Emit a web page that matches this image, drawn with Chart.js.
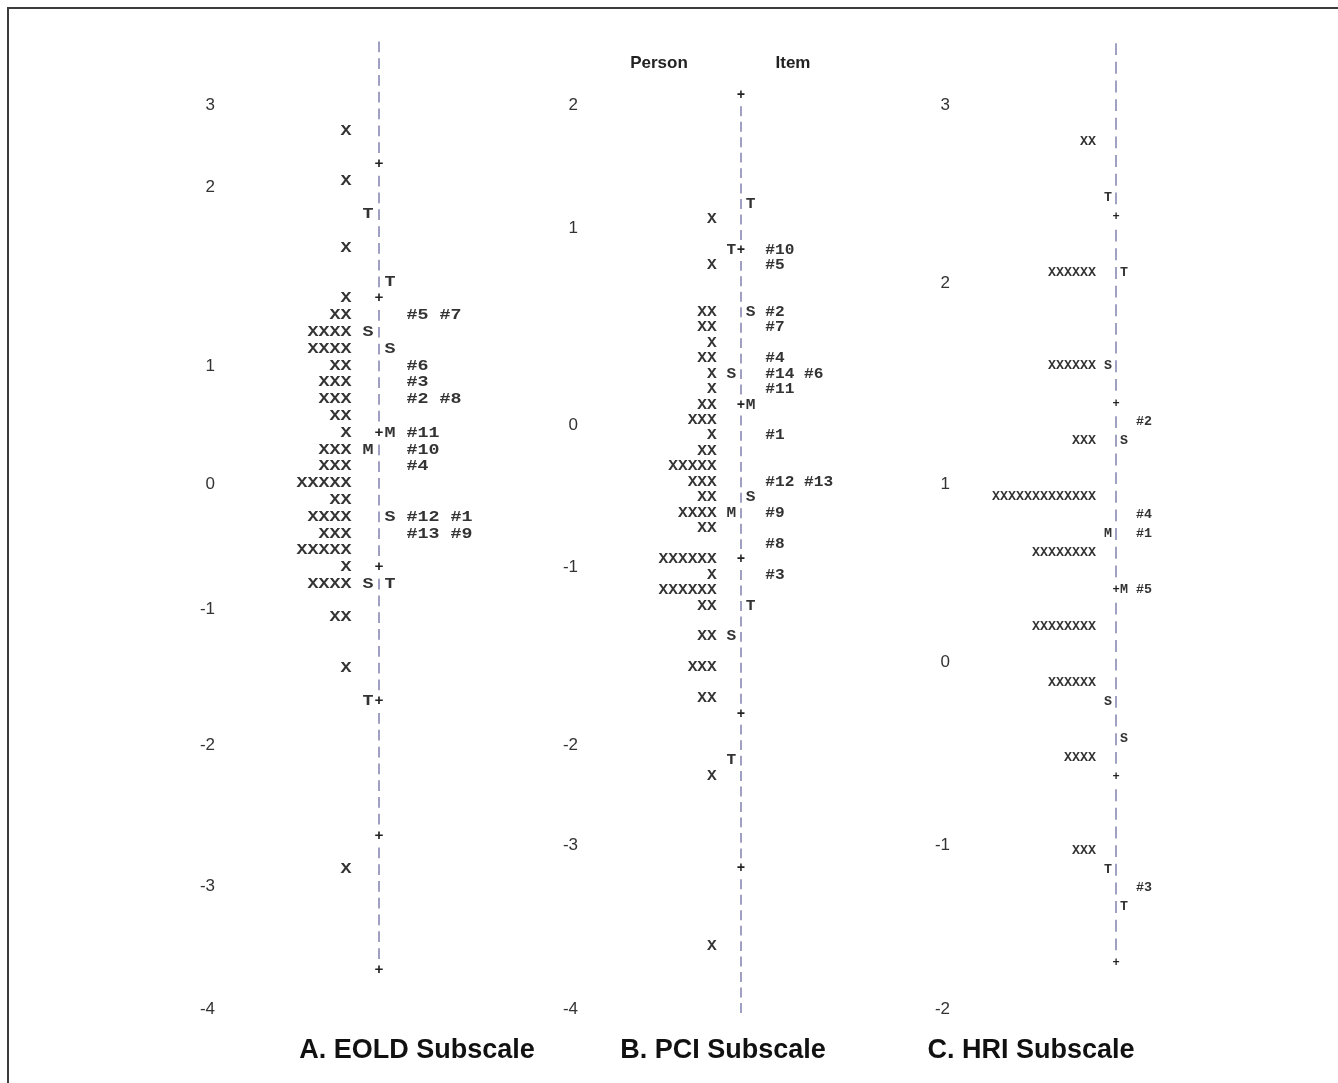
<!DOCTYPE html>
<html>
<head>
<meta charset="utf-8">
<script src="https://cdn.jsdelivr.net/npm/chart.js@4.4.1/dist/chart.umd.min.js"></script>
<style>
  body { margin: 0; background: #fff; }
  #wrap { position: relative; width: 1338px; height: 1083px; overflow: hidden; }
  #frame { position: absolute; left: 7px; top: 7px; width: 1400px; height: 1200px;
           border-top: 2px solid #3c3c3c; border-left: 2px solid #3c3c3c; }
  canvas { position: absolute; top: 0; }
  .title { position: absolute; top: 1034px; transform: translateX(-50%); white-space: nowrap;
           font: bold 27px "Liberation Sans", Arial, sans-serif; color: #111; }
  .head { position: absolute; top: 53px; transform: translateX(-50%);
          font: bold 17px "Liberation Sans", Arial, sans-serif; color: #222; }
</style>
</head>
<body>
<div id="wrap">
  <div id="frame"></div>
  <canvas id="eold" width="500" height="1083" style="left:0px"></canvas>
  <canvas id="pci" width="360" height="1083" style="left:500px"></canvas>
  <canvas id="hri" width="478" height="1083" style="left:860px"></canvas>
  <div class="head" style="left:659px">Person</div>
  <div class="head" style="left:793px">Item</div>
  <div class="title" style="left:417px">A. EOLD Subscale</div>
  <div class="title" style="left:723px">B. PCI Subscale</div>
  <div class="title" style="left:1031px">C. HRI Subscale</div>
</div>
<script>
// --- A. EOLD (logits, 8 text rows per logit) ---
const eoldPersonAt = [2.25, 1.875, 1.375, 1.0, 0.875, 0.75, 0.625, 0.5, 0.375, 0.25, 0.125, 0,
    -0.125, -0.25, -0.375, -0.5, -0.625, -0.75, -0.875, -1.0, -1.125, -1.375, -1.75, -3.25];
const eoldPersonCount = [1, 1, 1, 1, 2, 4, 4, 2, 3, 3, 2, 1, 3, 3, 5, 2, 4, 3, 5, 1, 4, 2, 1, 1];
const eoldItemAt = [0.875, 0.5, 0.375, 0.25, 0, -0.125, -0.25, -0.625, -0.75];
const eoldItemText = ['#5 #7', '#6', '#3', '#2 #8', '#11', '#10', '#4', '#12 #1', '#13 #9'];
const eoldPersonMarkAt = [1.625, 0.75, -0.125, -1.125, -2.0];
const eoldPersonMark = ['T', 'S', 'M', 'S', 'T'];
const eoldItemMarkAt = [1.125, 0.625, 0, -0.625, -1.125];
const eoldItemMark = ['T', 'S', 'M', 'S', 'T'];
const eoldScaleAt = [2.442, 1.831, 0.499, -0.380, -1.310, -2.323, -3.372, -4.288];
const eoldScaleText = ['3', '2', '1', '0', '-1', '-2', '-3', '-4'];

// --- B. PCI (10 rows per logit) ---
const pciPersonAt = [1.2, 0.9, 0.6, 0.5, 0.4, 0.3, 0.2, 0.1, 0, -0.1, -0.2, -0.3, -0.4, -0.5,
    -0.6, -0.7, -0.8, -1.0, -1.1, -1.2, -1.3, -1.5, -1.7, -1.9, -2.4, -3.5];
const pciPersonCount = [1, 1, 2, 2, 1, 2, 1, 1, 2, 3, 1, 2, 5, 3, 2, 4, 2, 6, 1, 6, 2, 2, 3, 2, 1, 1];
const pciItemAt = [1.0, 0.9, 0.6, 0.5, 0.3, 0.2, 0.1, -0.2, -0.5, -0.7, -0.9, -1.1];
const pciItemText = ['#10', '#5', '#2', '#7', '#4', '#14 #6', '#11', '#1', '#12 #13', '#9', '#8', '#3'];
const pciPersonMarkAt = [1.0, 0.2, -0.7, -1.5, -2.3];
const pciPersonMark = ['T', 'S', 'M', 'S', 'T'];
const pciItemMarkAt = [1.3, 0.6, 0, -0.6, -1.3];
const pciItemMark = ['T', 'S', 'M', 'S', 'T'];
const pciScaleAt = [1.940, 1.145, -0.129, -1.048, -2.199, -2.846, -3.907];
const pciScaleText = ['2', '1', '0', '-1', '-2', '-3', '-4'];

// --- C. HRI (10 rows per logit) ---
const hriPersonAt = [2.4, 1.7, 1.2, 0.8, 0.5, 0.2, -0.2, -0.5, -0.9, -1.4];
const hriPersonCount = [2, 6, 6, 3, 13, 8, 8, 6, 4, 3];
const hriItemAt = [0.9, 0.4, 0.3, 0, -1.6];
const hriItemText = ['#2', '#4', '#1', '#5', '#3'];
const hriPersonMarkAt = [2.1, 1.2, 0.3, -0.6, -1.5];
const hriPersonMark = ['T', 'S', 'M', 'S', 'T'];
const hriItemMarkAt = [1.7, 0.8, 0, -0.8, -1.7];
const hriItemMark = ['T', 'S', 'M', 'S', 'T'];
const hriScaleAt = [2.601, 1.646, 0.568, -0.386, -1.367, -2.247];
const hriScaleText = ['3', '2', '1', '0', '-1', '-2'];

const INK = '#333333';
const AXIS = '#8080ae';

// draws the Winsteps-style text map: one character per column, axis made of '|' and '+'
const wrightPlugin = {
    id: 'wrightText',
    afterDatasetsDraw(chart, args, opts) {
        const { ctx } = chart;
        const x = chart.scales.x, y = chart.scales.y;
        const colW = x.getPixelForValue(1) - x.getPixelForValue(0);
        const rowH = y.getPixelForValue(0) - y.getPixelForValue(1 / opts.rows);
        const ax = x.getPixelForValue(0);
        ctx.save();
        ctx.font = opts.font;
        ctx.textAlign = 'center';
        ctx.textBaseline = 'middle';
        // stretch glyphs so neighbouring characters touch, like the terminal font
        const sx = colW / ctx.measureText('X').width;

        const glyph = (ch, px, py) => {
            ctx.save();
            ctx.translate(px, py);
            ctx.scale(sx, 1);
            ctx.fillText(ch, 0, 0);
            ctx.restore();
        };

        for (let k = opts.top; k >= opts.bottom; k--) {
            const py = y.getPixelForValue(k / opts.rows);
            if (k % opts.rows === 0) {
                ctx.fillStyle = '#222';
                ctx.fillText('+', ax, py);
            } else {
                ctx.strokeStyle = AXIS;
                ctx.lineWidth = 1.5;
                ctx.beginPath();
                ctx.moveTo(ax, py - rowH * 0.32);
                ctx.lineTo(ax, py + rowH * 0.32);
                ctx.stroke();
            }
        }

        chart.data.datasets.forEach((ds, i) => {
            const meta = chart.getDatasetMeta(i);
            ctx.fillStyle = ds.textColor || INK;
            meta.data.forEach((pt, j) => {
                const s = ds.texts[j];
                const start = ds.align === 'right' ? pt.x - (s.length - 1) * colW : pt.x;
                for (let c = 0; c < s.length; c++) {
                    if (s[c] !== ' ') glyph(s[c], start + c * colW, pt.y);
                }
            });
        });
        ctx.restore();
    }
};

function textSet(label, col, at, texts, align) {
    return {
        label: label,
        data: at.map(v => ({ x: col, y: v })),
        texts: texts,
        align: align,
        pointRadius: 0,
        pointHoverRadius: 0,
        showLine: false
    };
}

function makeMap(id, cfg) {
    new Chart(document.getElementById(id), {
        type: 'scatter',
        data: {
            datasets: [
                textSet('Persons', -3, cfg.personAt, cfg.personCount.map(n => 'X'.repeat(n)), 'right'),
                textSet('Person markers', -1, cfg.personMarkAt, cfg.personMark, 'left'),
                textSet('Item markers', 1, cfg.itemMarkAt, cfg.itemMark, 'left'),
                textSet('Items', 3, cfg.itemAt, cfg.itemText, 'left')
            ]
        },
        options: {
            responsive: false,
            animation: false,
            events: [],
            layout: { padding: { left: cfg.padLeft, top: 20, bottom: 53, right: 0 } },
            plugins: {
                legend: { display: false },
                tooltip: { enabled: false },
                wrightText: cfg.map
            },
            scales: {
                x: { type: 'linear', display: false, min: cfg.xMin, max: cfg.xMax },
                y: {
                    type: 'linear',
                    position: 'left',
                    min: cfg.yMin,
                    max: cfg.yMax,
                    grid: { display: false, drawTicks: false },
                    border: { display: false },
                    afterFit(scale) { scale.width = 40; },
                    afterBuildTicks(scale) { scale.ticks = cfg.scaleAt.map(v => ({ value: v })); },
                    ticks: {
                        autoSkip: false,
                        padding: 0,
                        color: '#333',
                        font: { family: '"Liberation Sans", Arial, sans-serif', size: 17 },
                        callback: (v, i) => cfg.scaleText[i]
                    }
                }
            }
        },
        plugins: [wrightPlugin]
    });
}

makeMap('eold', {
    personAt: eoldPersonAt, personCount: eoldPersonCount,
    itemAt: eoldItemAt, itemText: eoldItemText,
    personMarkAt: eoldPersonMarkAt, personMark: eoldPersonMark,
    itemMarkAt: eoldItemMarkAt, itemMark: eoldItemMark,
    scaleAt: eoldScaleAt, scaleText: eoldScaleText,
    padLeft: 175, xMin: -14.91, xMax: 11.0, yMin: -4.4443, yMax: 3.0745,
    map: { rows: 8, top: 23, bottom: -32, font: 'bold 15px "Liberation Mono", monospace' }
});

makeMap('pci', {
    personAt: pciPersonAt, personCount: pciPersonCount,
    itemAt: pciItemAt, itemText: pciItemText,
    personMarkAt: pciPersonMarkAt, personMark: pciPersonMark,
    itemMarkAt: pciItemMarkAt, itemMark: pciItemMark,
    scaleAt: pciScaleAt, scaleText: pciScaleText,
    padLeft: 38, xMin: -16.804, xMax: 12.268, yMin: -4.0427, yMax: 2.4903,
    map: { rows: 10, top: 20, bottom: -39, font: 'bold 14px "Liberation Mono", monospace' }
});

makeMap('hri', {
    personAt: hriPersonAt, personCount: hriPersonCount,
    itemAt: hriItemAt, itemText: hriItemText,
    personMarkAt: hriPersonMarkAt, personMark: hriPersonMark,
    itemMarkAt: hriItemMarkAt, itemMark: hriItemMark,
    scaleAt: hriScaleAt, scaleText: hriScaleText,
    padLeft: 50, xMin: -20.75, xMax: 27.75, yMin: -2.3592, yMax: 3.0563,
    map: { rows: 10, top: 29, bottom: -20, font: 'bold 12px "Liberation Mono", monospace' }
});
</script>
</body>
</html>
